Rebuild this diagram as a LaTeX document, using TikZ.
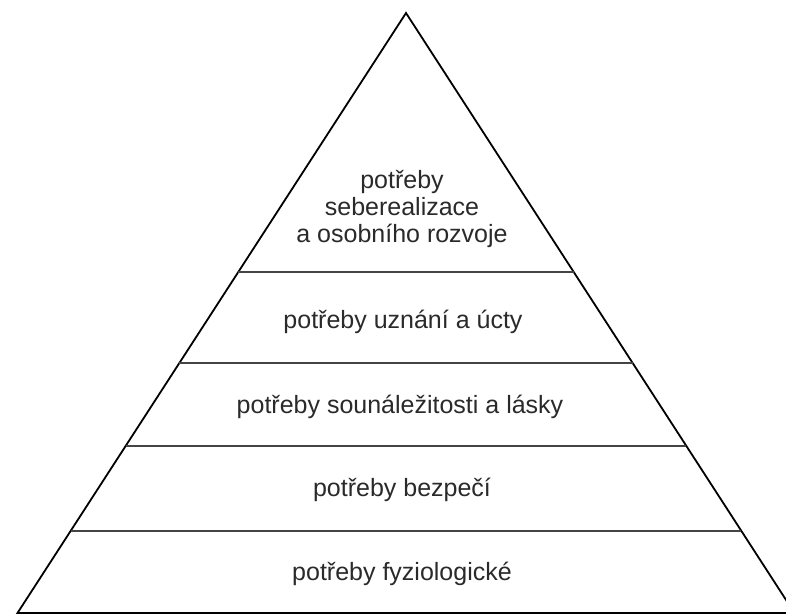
\documentclass[tikz,border=0pt]{standalone}
\usepackage{fontspec}
\setmainfont{Liberation Sans}
\usetikzlibrary{calc}
\definecolor{txt}{HTML}{2A2A2A}
\definecolor{band}{HTML}{444444}
\tikzset{
  edge/.style={draw=black, line width=1.8pt, line join=miter},
  sep/.style={draw=band, line width=1.6pt},
  lbl/.style={text=txt, font=\fontsize{25}{27}\selectfont, align=center, inner sep=0pt}
}
\begin{document}
\begin{tikzpicture}[x=1pt,y=-1pt]
\useasboundingbox (0,0) rectangle (786,615);
\clip (0,0) rectangle (786,615);
\fill[white] (0,0) rectangle (786,615);
\coordinate (A) at (406,13);
\coordinate (L) at (17.5,613);
\coordinate (R) at (794.5,613);
\draw[edge] (L) -- (A) -- (R) -- cycle;
\foreach \t/\n in {0.4317/a,0.5833/b,0.7217/c,0.8633/d}{
  \coordinate (l\n) at ($(A)!\t!(L)$);
  \coordinate (r\n) at ($(A)!\t!(R)$);
  \draw[sep] (l\n) -- (r\n);
}
\node[lbl] (n1) at (402,209) {potřeby\\seberealizace\\a osobního rozvoje};
\node[lbl] (n2) at (403,322) {potřeby uznání a úcty};
\node[lbl] (n3) at (400,407) {potřeby sounáležitosti a lásky};
\node[lbl] (n4) at (402,490) {potřeby bezpečí};
\node[lbl] (n5) at (402,574) {potřeby fyziologické};
\end{tikzpicture}
\end{document}
